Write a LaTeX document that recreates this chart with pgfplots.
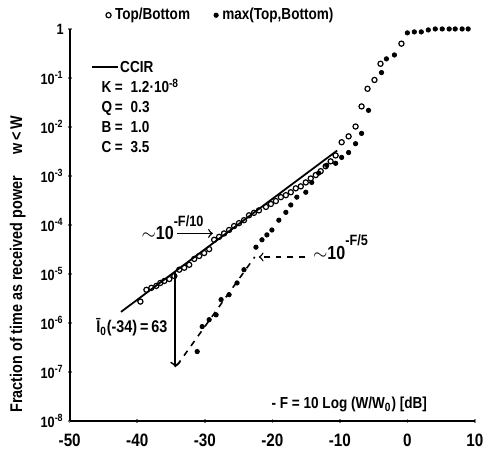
\documentclass[border=0pt]{standalone}
\usepackage{fontspec}
\setmainfont[FakeStretch=0.85]{Liberation Sans}
\usepackage{pgfplots}
\usepackage{pgfplotstable}
\pgfplotsset{compat=1.18}

% y values are log10 of the fraction of time
\pgfplotstableread{
x      ly
-39.53 -5.56
-38.64 -5.32
-37.91 -5.28
-37.17 -5.24
-36.58 -5.18
-35.99 -5.14
-35.25 -5.10
-34.51 -5.04
-33.78 -4.91
-33.04 -4.87
-32.30 -4.81
-31.56 -4.69
-30.83 -4.63
-30.09 -4.57
-29.35 -4.49
-28.61 -4.30
-27.88 -4.24
-27.14 -4.17
-26.40 -4.10
-25.66 -4.02
-24.93 -3.96
-24.19 -3.90
-23.45 -3.80
-22.71 -3.75
-21.98 -3.70
-20.94 -3.63
-20.21 -3.57
-19.47 -3.51
-18.73 -3.43
-17.99 -3.39
-17.26 -3.33
-16.52 -3.25
-15.78 -3.21
-15.04 -3.13
-14.31 -3.05
-13.57 -2.98
-12.83 -2.90
-12.09 -2.80
-11.36 -2.70
-10.62 -2.58
-9.73  -2.31
-8.70  -2.19
-7.67  -1.99
-6.78  -1.58
-5.90  -1.22
-4.87  -1.04
-3.98  -0.71
-0.88  -0.30
}\topbottom

\pgfplotstableread{
x      ly
-31.12 -6.58
-30.38 -6.07
-29.35 -5.93
-28.32 -5.83
-27.58 -5.52
-26.40 -5.42
-25.22 -5.18
-24.19 -4.91
-22.42 -4.45
-21.53 -4.30
-20.80 -4.20
-20.06 -4.10
-19.03 -3.90
-17.99 -3.74
-17.26 -3.59
-16.37 -3.43
-15.04 -3.33
-14.16 -3.13
-13.13 -2.94
-11.95 -2.78
-10.62 -2.74
-9.73  -2.62
-8.70  -2.52
-7.67  -2.34
-6.78  -2.13
-5.75  -1.66
-3.83  -0.89
-3.10  -0.61
-1.92  -0.53
0.00   -0.08
1.03   -0.06
2.06   -0.06
3.10   -0.02
4.13   0.00
5.16   0.00
6.19   0.00
7.08   0.00
8.11   0.00
9.00   0.00
}\maxtb

\newcommand{\hisup}[1]{\raisebox{1.35ex}{\fontsize{7.5}{8}\selectfont #1}}

\begin{document}
\begin{tikzpicture}
\begin{axis}[
    scale only axis, width=203.5pt, height=197pt,
    xmin=-50, xmax=10, ymin=-8, ymax=0,
    axis lines=left, axis line style={-, line width=1pt},
    xtick={-50,-40,...,10},
    ytick={-8,...,0},
    yticklabels={10\textsuperscript{-8},10\textsuperscript{-7},10\textsuperscript{-6},10\textsuperscript{-5},
                 10\textsuperscript{-4},10\textsuperscript{-3},10\textsuperscript{-2},10\textsuperscript{-1},1},
    /pgf/number format/assume math mode=true,
    x tick label style={font=\fontsize{9}{10}\selectfont\bfseries, yshift=-2pt},
    y tick label style={font=\fontsize{7.5}{8}\selectfont\bfseries, xshift=1.5pt},
    major tick length=2pt, tick style={line width=0.8pt},
    ylabel={Fraction of time as received power \quad w\,<\,W},
    ylabel style={at={(axis description cs:-0.128,0.4)}, anchor=center, rotate=0,
                  font=\fontsize{8.5}{9}\selectfont\bfseries},
    clip=false,
    legend columns=2,
    legend style={draw=none, fill=none, at={(axis description cs:0.375,1.035)}, anchor=center,
                  font=\fontsize{8}{9}\selectfont\bfseries,
                  /tikz/every even column/.append style={column sep=10pt}},
    legend cell align=left,
    legend image code/.code={\draw[#1] plot coordinates {(0.12cm,0cm)};},
]
\addplot[only marks, mark=o, mark size=1.3pt, mark options={line width=0.6pt}] table[x=x, y=ly] {\topbottom};
\addlegendentry{Top/Bottom}
\addplot[only marks, mark=*, mark size=1.1pt] table[x=x, y=ly] {\maxtb};
\addlegendentry{max(Top,Bottom)}

% CCIR line ~10^{-F/10}
\addplot[forget plot, line width=0.9pt] coordinates {(-42.4,-5.77) (-10.4,-2.48)};
% dashed ~10^{-F/5}
\addplot[forget plot, dashed, line width=0.8pt] coordinates {(-34.1,-6.86) (-22.6,-4.65)};
% I0 arrow
\addplot[forget plot, ->, line width=0.9pt] coordinates {(-34.35,-4.95) (-34.35,-6.90)};
% arrows to the lines
\addplot[forget plot, ->, line width=0.7pt] coordinates {(-34.1,-4.17) (-28.8,-4.17)};
\addplot[forget plot, ->, dashed, line width=0.7pt] coordinates {(-15.1,-4.65) (-22.0,-4.65)};

\node[anchor=base west, font=\fontsize{9.5}{10}\selectfont\bfseries] at (axis cs:-40.4,-4.30) {$\sim$10\hisup{-F/10}};
\node[anchor=base west, font=\fontsize{9.5}{10}\selectfont\bfseries] at (axis cs:-15.0,-4.70) {$\sim$10\hisup{-F/5}};
\node[anchor=east, font=\fontsize{8.5}{9}\selectfont\bfseries] at (axis cs:-34.5,-6.08) {Ī\textsubscript{0}(-34)\,=\,63};
\node[font=\fontsize{8}{9}\selectfont\bfseries] at (axis cs:-8.6,-7.66) {- F = 10 Log (W/W\textsubscript{0}) [dB]};

\node[anchor=north west, font=\fontsize{8}{9}\selectfont\bfseries, inner sep=0pt, align=left]
  at (axis cs:-46.8,-0.66) {%
  \rule[0.6ex]{13pt}{0.8pt}\,CCIR\\[2pt]
  \begin{tabular}{@{\hspace{5pt}}l@{\,}l@{\hspace{4pt}}l}
  K & = & 1.2·10\textsuperscript{-8}\\[1pt]
  Q & = & 0.3\\[1pt]
  B & = & 1.0\\[1pt]
  C & = & 3.5
  \end{tabular}};

\coordinate (bl) at (axis description cs:-0.172,-0.058);
\coordinate (tr) at (axis description cs:1.032,1.071);
\end{axis}
\path (bl) rectangle (tr);
\end{tikzpicture}
\end{document}
